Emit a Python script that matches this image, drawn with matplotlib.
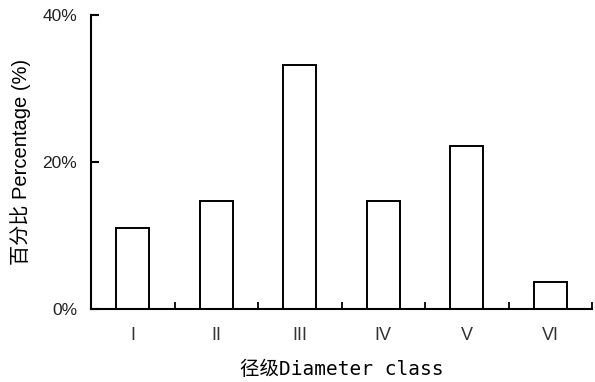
import matplotlib.pyplot as plt
import numpy as np

classes = ["I", "II", "III", "IV", "V", "VI"]
percent = [11.1, 14.8, 33.3, 14.8, 22.2, 3.7]
y_ticks = [0, 20, 40]
y_tick_labels = ["0%", "20%", "40%"]

plt.rcParams['font.family'] = ['Liberation Sans', 'Noto Sans CJK SC']

fig = plt.figure(figsize=(5.95, 3.82), dpi=100)
ax = fig.add_axes([0.153, 0.190, 0.842, 0.770])

x = np.arange(len(classes))
ax.bar(x, percent, width=0.4, facecolor='white', edgecolor='black', linewidth=1.4)

ax.set_xlim(-0.5, len(classes) - 0.5)
ax.set_ylim(0, 40)

ax.set_xticks(x)
ax.set_xticklabels(classes, fontsize=13, color='#333333')
ax.tick_params(axis='x', which='major', length=0, pad=13)
ax.set_xticks(np.arange(len(classes) + 1) - 0.5, minor=True)
ax.tick_params(axis='x', which='minor', direction='in', length=5, width=1.3)

ax.set_yticks(y_ticks)
ax.set_yticklabels(y_tick_labels, fontsize=12.5, color='#222222')
ax.tick_params(axis='y', direction='in', length=6, width=1.5, pad=10)

for side in ['top', 'right']:
    ax.spines[side].set_visible(False)
for side in ['left', 'bottom']:
    ax.spines[side].set_linewidth(1.5)

ax.set_xlabel("径级Diameter class", fontsize=14,
              family=['DejaVu Sans Mono', 'Noto Sans CJK SC'], labelpad=11)
ax.set_ylabel("百分比 Percentage (%)", fontsize=14.5, labelpad=8)

fig.savefig("out.png", dpi=100, facecolor='white')
